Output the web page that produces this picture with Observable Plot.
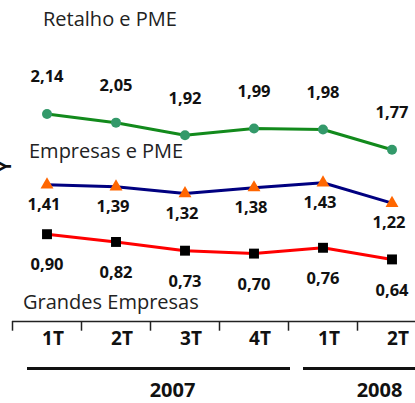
<!DOCTYPE html>
<html>
<head>
<meta charset="utf-8">
<script src="https://cdn.jsdelivr.net/npm/d3@7"></script>
<script src="https://cdn.jsdelivr.net/npm/@observablehq/plot@0.6"></script>
<style>
  html, body { margin: 0; padding: 0; background: white; overflow: hidden; }
</style>
</head>
<body>
<div id="chart"></div>
<script>
// Data
const quarterLabels = ["1T", "2T", "3T", "4T", "1T", "2T"];
const years = ["2007", "2008"];
const yearStart = [0, 4];   // first quarter index of each year
const yearEnd = [3, 5];     // last quarter index of each year
const seriesNames = ["Retalho e PME", "Empresas e PME", "Grandes Empresas"];
const retalho = [2.14, 2.05, 1.92, 1.99, 1.98, 1.77];
const empresas = [1.41, 1.39, 1.32, 1.38, 1.43, 1.22];
const grandes = [0.90, 0.82, 0.73, 0.70, 0.76, 0.64];

const fmt = v => v.toFixed(2).replace(".", ",");
const rows = (vals) => vals.map((v, i) => ({i, v}));
const R = rows(retalho), E = rows(empresas), G = rows(grandes);
const idx = quarterLabels.map((q, i) => ({i, q}));
const yearRows = years.map((y, k) => ({y, s: yearStart[k], e: yearEnd[k]}));

const bold = {fontFamily: "Open Sans", fontWeight: "bold"};

const chart = Plot.plot({
  width: 415,
  height: 403,
  marginTop: 0, marginRight: 0, marginBottom: 0, marginLeft: 0,
  style: {fontFamily: "Open Sans", background: "white", overflow: "hidden"},
  x: {type: "linear", domain: [-0.5, 5.5], range: [12, 426], axis: null},
  y: {type: "linear", domain: [0, 3], range: [321, 30], axis: null},
  marks: [
    // bottom axis line and boundary ticks
    Plot.ruleY([0], {x1: -0.5, x2: 5.5, stroke: "#222", strokeWidth: 1.5}),
    Plot.ruleX(idx, {x: d => d.i - 0.5, y1: 0, y2: -0.1, stroke: "#222", strokeWidth: 1.5}),
    // quarter labels
    Plot.text(idx, {x: "i", y: 0, text: "q", dy: 17, dx: 6, fontSize: 19, ...bold, fill: "#111"}),
    // year rules and labels
    Plot.ruleY(yearRows, {y: -0.485, x1: d => d.s - 0.5, x2: d => d.e + 0.5, insetLeft: 15, insetRight: -2, stroke: "#111", strokeWidth: 3}),
    Plot.text(yearRows, {x: d => (d.s + d.e) / 2, y: -0.485, text: "y", dy: 22, dx: 22, fontSize: 20, ...bold, fill: "#111"}),

    // Retalho e PME
    Plot.line(R, {x: "i", y: "v", stroke: "#128a1c", strokeWidth: 3}),
    Plot.dot(R, {x: "i", y: "v", r: 5, fill: "#33996a", stroke: null}),
    Plot.text(R, {x: "i", y: "v", text: d => fmt(d.v), dy: -37, fontSize: 16.5, ...bold, fill: "#111"}),

    // Empresas e PME
    Plot.line(E, {x: "i", y: "v", stroke: "#000080", strokeWidth: 3}),
    Plot.dot(E, {x: "i", y: "v", symbol: "triangle", r: 4.8, fill: "#ff6600", stroke: null}),
    Plot.text(E, {x: "i", y: "v", text: d => fmt(d.v), dy: 20, dx: -3, fontSize: 16.5, ...bold, fill: "#111"}),

    // Grandes Empresas
    Plot.line(G, {x: "i", y: "v", stroke: "#ff0000", strokeWidth: 3}),
    Plot.dot(G, {x: "i", y: "v", symbol: "square", r: 5.6, fill: "#000", stroke: null}),
    Plot.text(G, {x: "i", y: "v", text: d => fmt(d.v), dy: 31, fontSize: 16.5, ...bold, fill: "#111"}),

    // series names anchored to first point of each series
    Plot.text([R[0]], {x: "i", y: "v", text: () => seriesNames[0], textAnchor: "start", dx: -4, dy: -94, fontSize: 20, fill: "#222"}),
    Plot.text([E[0]], {x: "i", y: "v", text: () => seriesNames[1], textAnchor: "start", dx: -18, dy: -33, fontSize: 20, fill: "#222"}),
    Plot.text([G[0]], {x: "i", y: "v", text: () => seriesNames[2], textAnchor: "start", dx: -24, dy: 68, fontSize: 20, fill: "#222"}),

    // clipped vertical axis title at the left edge
    Plot.text(["Y"], {frameAnchor: "left", text: d => d, rotate: -90, dx: 5, dy: -30, fontSize: 18, ...bold, fill: "#111"})
  ]
});
document.getElementById("chart").appendChild(chart);
</script>
</body>
</html>
